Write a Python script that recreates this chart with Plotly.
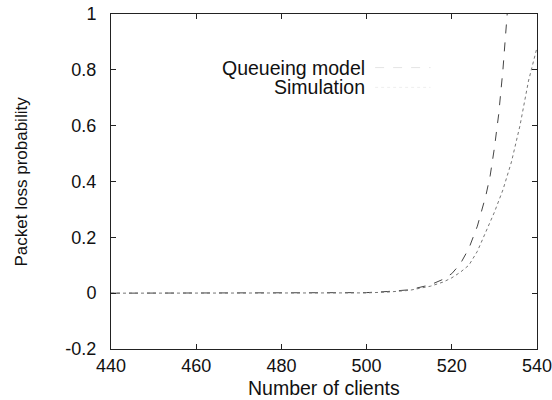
import plotly.graph_objects as go

clients_model = [440, 460, 480, 500, 505, 510, 515, 518, 520, 522, 524, 526, 528, 529, 530, 531, 532, 533]
loss_model = [0, 0, 0, 0.002, 0.006, 0.012, 0.03, 0.05, 0.07, 0.105, 0.16, 0.24, 0.35, 0.42, 0.52, 0.64, 0.8, 1.0]

clients_sim = [440, 460, 480, 500, 505, 510, 515, 518, 520, 522, 524, 526, 528, 530, 532, 534, 536, 538, 540]
loss_sim = [0, 0, 0, 0.001, 0.004, 0.01, 0.025, 0.04, 0.055, 0.075, 0.1, 0.15, 0.22, 0.29, 0.37, 0.47, 0.6, 0.76, 0.88]

x_ticks = [440, 460, 480, 500, 520, 540]
y_ticks = [-0.2, 0, 0.2, 0.4, 0.6, 0.8, 1]
y_tick_labels = ["-0.2", "0", "0.2", "0.4", "0.6", "0.8", "1"]

font = "Liberation Sans, Arial, sans-serif"
txt = "#111"

fig = go.Figure()
fig.add_trace(go.Scatter(x=clients_model, y=loss_model, mode="lines", name="Queueing model",
                         line=dict(color="#444", width=1, dash="dash"), showlegend=False))
fig.add_trace(go.Scatter(x=clients_sim, y=loss_sim, mode="lines", name="Simulation",
                         line=dict(color="#777", width=1, dash="dot"), showlegend=False))

# gnuplot-style key: text right-aligned, faint line sample to the right
fig.add_annotation(x=0.601, y=0.840, xref="paper", yref="paper", text="Queueing model",
                   showarrow=False, xanchor="right", yanchor="middle",
                   font=dict(family=font, size=19.5, color=txt))
fig.add_annotation(x=0.601, y=0.781, xref="paper", yref="paper", text="Simulation",
                   showarrow=False, xanchor="right", yanchor="middle",
                   font=dict(family=font, size=19.5, color=txt))
fig.add_shape(type="line", xref="paper", yref="paper", x0=0.62, x1=0.75, y0=0.840, y1=0.840,
              line=dict(color="#e4e4e4", width=1, dash="dash"))
fig.add_shape(type="line", xref="paper", yref="paper", x0=0.62, x1=0.75, y0=0.781, y1=0.781,
              line=dict(color="#eeeeee", width=1, dash="dot"))

# axis titles
fig.add_annotation(x=0.5, y=-0.116, xref="paper", yref="paper", text="Number of clients",
                   showarrow=False, xanchor="center", yanchor="middle",
                   font=dict(family=font, size=19.5, color=txt))
fig.add_annotation(x=-0.209, y=0.5, xref="paper", yref="paper", text="Packet loss probability",
                   showarrow=False, xanchor="center", yanchor="middle", textangle=-90,
                   font=dict(family=font, size=17, color=txt))

axis_common = dict(showgrid=False, zeroline=False, showline=True, linecolor="#222", linewidth=1,
                   mirror="allticks", ticks="inside", ticklen=5, tickcolor="#222", automargin=False,
                   ticklabeloverflow="allow",
                   tickfont=dict(family=font, size=18, color=txt))

fig.update_xaxes(range=[440, 540], tickvals=x_ticks, **axis_common)
fig.update_yaxes(range=[-0.2, 1], tickvals=y_ticks, ticktext=y_tick_labels,
                 ticklabelstandoff=10, **axis_common)

fig.update_layout(width=552, height=400, margin=dict(l=111, r=15, t=14, b=51, autoexpand=False),
                  plot_bgcolor="white", paper_bgcolor="white")

# remove the default page margin so the figure sits at the window's top-left corner
fig.write_html("out.html", config={"displayModeBar": False},
               post_script="document.body.style.margin='0px';")
